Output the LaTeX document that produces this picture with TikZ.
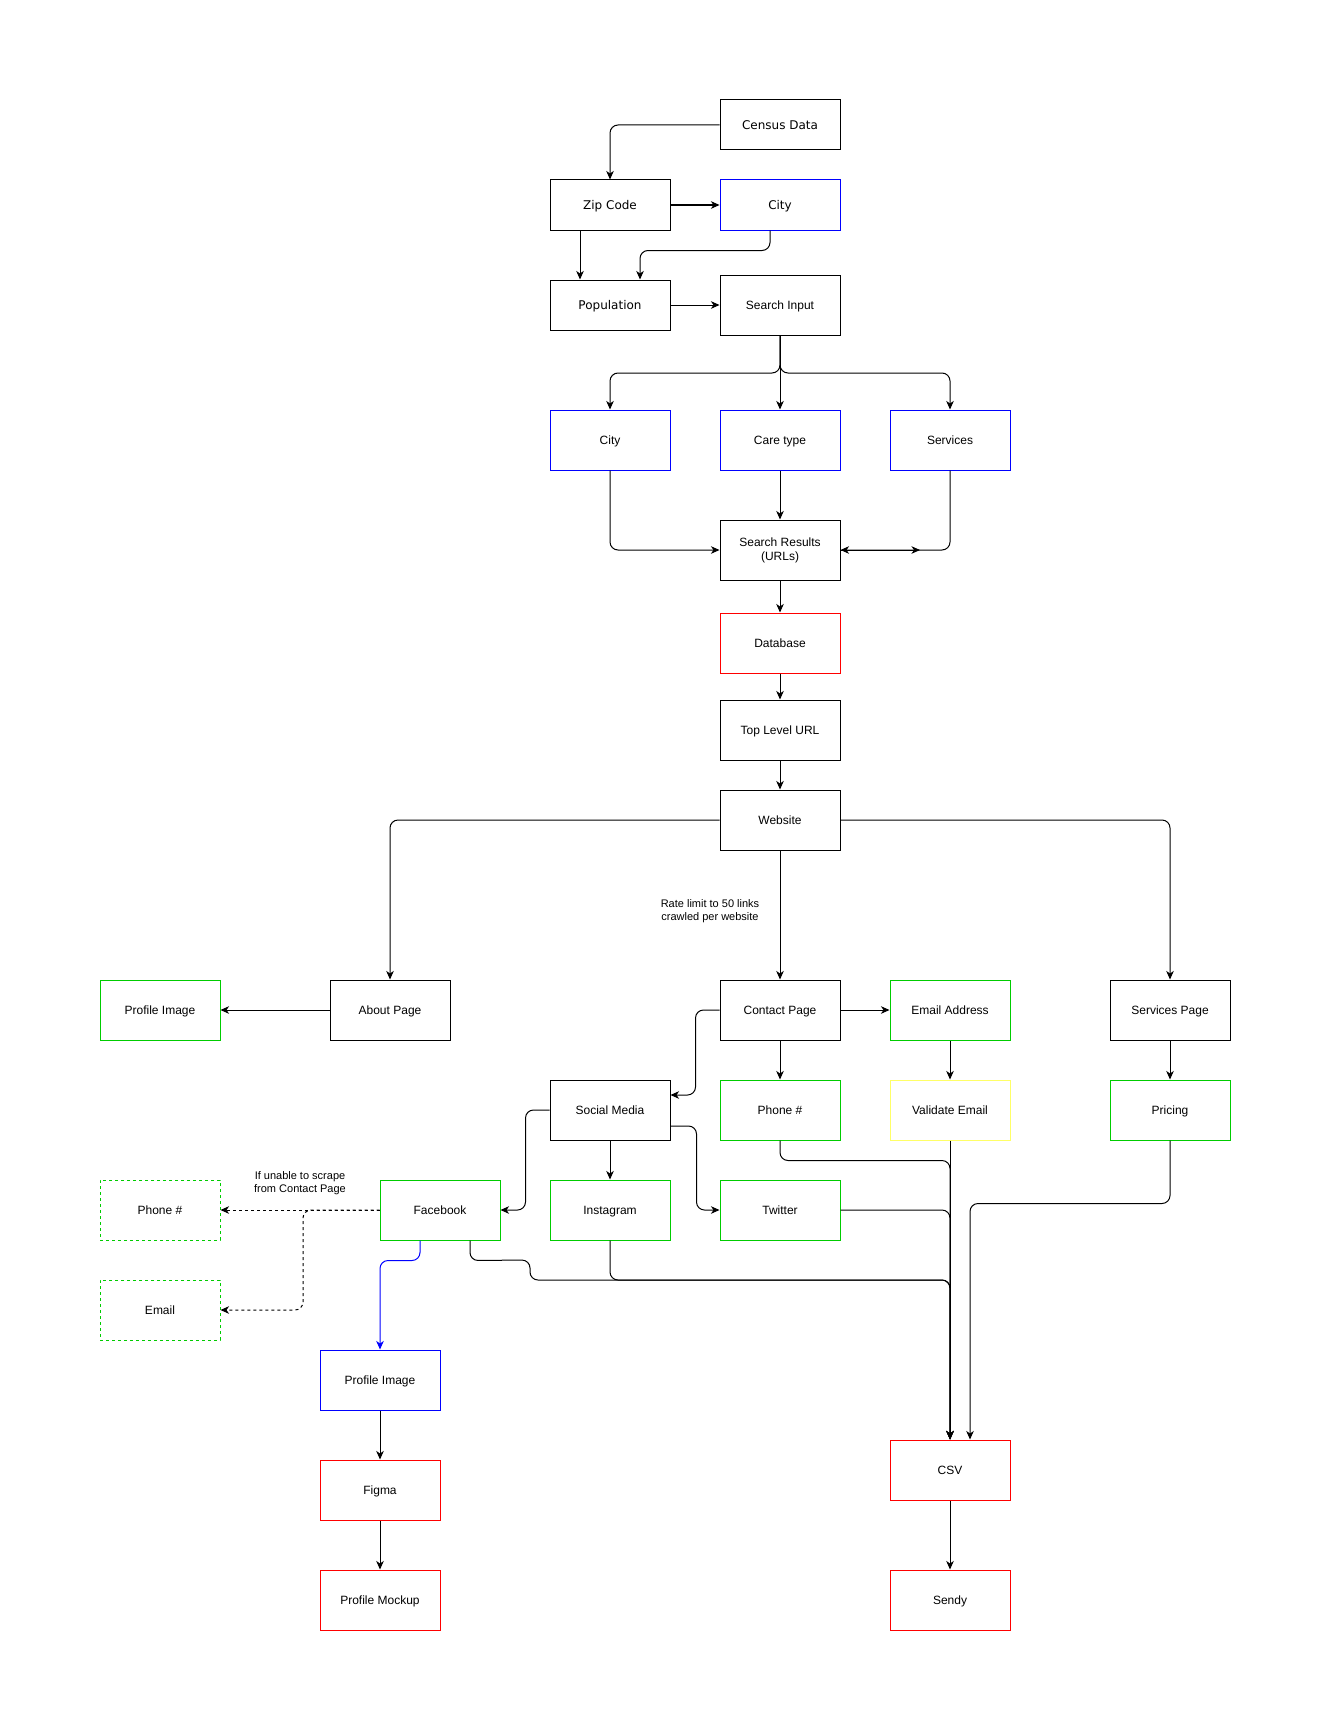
\documentclass[tikz,border=0pt]{standalone}
\usepackage{fontspec}
\setmainfont{Liberation Sans}
\newfontfamily\dejavu{DejaVu Sans}
\usetikzlibrary{arrows.meta,calc}
\definecolor{cblue}{HTML}{0000FF}
\definecolor{cgreen}{HTML}{00CC00}
\definecolor{cred}{HTML}{FF0000}
\definecolor{cyellow}{HTML}{FFFF66}
\begin{document}
\begin{tikzpicture}[x=1pt,y=-1pt,
  plainbox/.style={draw=black,line width=1pt,minimum width=120pt,minimum height=60pt,inner sep=2pt,align=center,font=\fontsize{12}{14}\selectfont},
  box/.style={plainbox,text height=12.4pt,text depth=2.6pt},
  lowbox/.style={box,minimum height=50pt},
  vbox/.style={lowbox,font=\dejavu\fontsize{12}{14}\selectfont},
  bluebox/.style={draw=cblue},
  greenbox/.style={draw=cgreen},
  redbox/.style={draw=cred},
  yellowbox/.style={draw=cyellow},
  dashbox/.style={draw=cgreen,dash pattern=on 3pt off 3pt},
  conn/.style={line width=1pt,rounded corners=8pt},
  arr/.style={conn,-{Stealth[length=8.5pt,width=7.5pt,inset=2.5pt]}},
  note/.style={align=center,font=\fontsize{11}{13}\selectfont,inner sep=0pt}
]
\useasboundingbox[fill=white] (0,0) rectangle (1331,1731);

% nodes
\node[vbox] (census) at (780,125) {Census Data};
\node[vbox] (zip) at (610,205) {Zip Code};
\node[vbox,bluebox] (city1) at (780,205) {City};
\node[vbox] (pop) at (610,305) {Population};
\node[box] (sinput) at (780,305) {Search Input};
\node[box,bluebox] (city2) at (610,440) {City};
\node[box,bluebox] (care) at (780,440) {Care type};
\node[box,bluebox] (serv) at (950,440) {Services};
\node[plainbox,text height=23pt,text depth=3pt] (sres) at (780,550) {Search Results\\(URLs)};
\node[box,redbox] (db) at (780,643) {Database};
\node[box] (top) at (780,730) {Top Level URL};
\node[box] (web) at (780,820) {Website};
\node[box] (contact) at (780,1010) {Contact Page};
\node[box,greenbox] (email) at (950,1010) {Email Address};
\node[box] (spage) at (1170,1010) {Services Page};
\node[box] (about) at (390,1010) {About Page};
\node[box,greenbox] (pimg1) at (160,1010) {Profile Image};
\node[box] (social) at (610,1110) {Social Media};
\node[box,greenbox] (phone1) at (780,1110) {Phone \#};
\node[box,yellowbox] (valid) at (950,1110) {Validate Email};
\node[box,greenbox] (pricing) at (1170,1110) {Pricing};
\node[box,greenbox] (fb) at (440,1210) {Facebook};
\node[box,greenbox] (insta) at (610,1210) {Instagram};
\node[box,greenbox] (twitter) at (780,1210) {Twitter};
\node[box,dashbox] (phone2) at (160,1210) {Phone \#};
\node[box,dashbox] (email2) at (160,1310) {Email};
\node[box,bluebox] (pimg2) at (380,1380) {Profile Image};
\node[box,redbox] (figma) at (380,1490) {Figma};
\node[box,redbox] (mock) at (380,1600) {Profile Mockup};
\node[box,redbox] (csv) at (950,1470) {CSV};
\node[box,redbox] (sendy) at (950,1600) {Sendy};

\node[note] (rate) at (710,911) {Rate limit to 50 links\\crawled per website};
\node[note] (unable) at (300,1183) {If unable to scrape\\from Contact Page};

% coordinates
\coordinate (br) at (780,373);
\coordinate (srtip) at (920,550);
\coordinate (fbturn) at (303,1210);
\coordinate (busy) at (950,1280);

% top section
\draw[arr] (census.west) -| (zip.north);
\draw[arr] (zip.east) -- (city1.west);
\draw[arr] ([xshift=-30pt]zip.south) -- ([xshift=-30pt]pop.north);
\draw[arr] ([xshift=-10pt]city1.south) -- ++(0,20) -| ([xshift=30pt]pop.north);
\draw[arr] (pop.east) -- (sinput.west);

\draw[arr] (sinput.south) -- (br) -| (city2.north);
\draw[arr] (sinput.south) -- (br) -| (serv.north);
\draw[arr] (sinput.south) -- (care.north);

\draw[arr] (city2.south) |- (sres.west);
\draw[arr] (care.south) -- (sres.north);
\draw[arr] (serv.south) |- (sres.east);
\draw[arr] (sres.east) -- (srtip);

\draw[arr] (sres.south) -- (db.north);
\draw[arr] (db.south) -- (top.north);
\draw[arr] (top.south) -- (web.north);

% website branches
\draw[arr] (web.west) -| (about.north);
\draw[arr] (web.east) -| (spage.north);
\draw[arr] (web.south) -- (contact.north);
\draw[arr] (about.west) -- (pimg1.east);

\draw[arr] (contact.east) -- (email.west);
\draw[arr] (contact.south) -- (phone1.north);
\draw[arr] (email.south) -- (valid.north);
\draw[arr] (spage.south) -- (pricing.north);
\draw[arr] (contact.west) -- ++(-24,0) |- ([yshift=15pt]social.east);

\draw[arr] (social.west) -- ++(-24,0) |- (fb.east);
\draw[arr] ([yshift=-16pt]social.east) -- ++(26,0) |- (twitter.west);
\draw[arr] (social.south) -- (insta.north);

% facebook
\draw[arr,dash pattern=on 3pt off 3pt] (fb.west) -- (phone2.east);
\draw[arr,dash pattern=on 3pt off 3pt] (fb.west) -- (fbturn) |- (email2.east);
\draw[arr,draw=cblue] ([xshift=-20pt]fb.south) -- ++(0,20) -| (pimg2.north);
\draw[arr] ([xshift=30pt]fb.south) -- ++(0,20) -- (530,1260) -- (530,1280) -- (busy) -- (csv.north);

% to CSV
\draw[arr] (insta.south) |- (busy) -- (csv.north);
\draw[arr] (phone1.south) -- ++(0,20) -| (csv.north);
\draw[arr] (twitter.east) -| (csv.north);
\draw[arr] (valid.south) -- (csv.north);
\draw[arr] (pricing.south) -- ++(0,63) -| ([xshift=20pt]csv.north);

\draw[arr] (csv.south) -- (sendy.north);
\draw[arr] (pimg2.south) -- (figma.north);
\draw[arr] (figma.south) -- (mock.north);
\end{tikzpicture}
\end{document}
